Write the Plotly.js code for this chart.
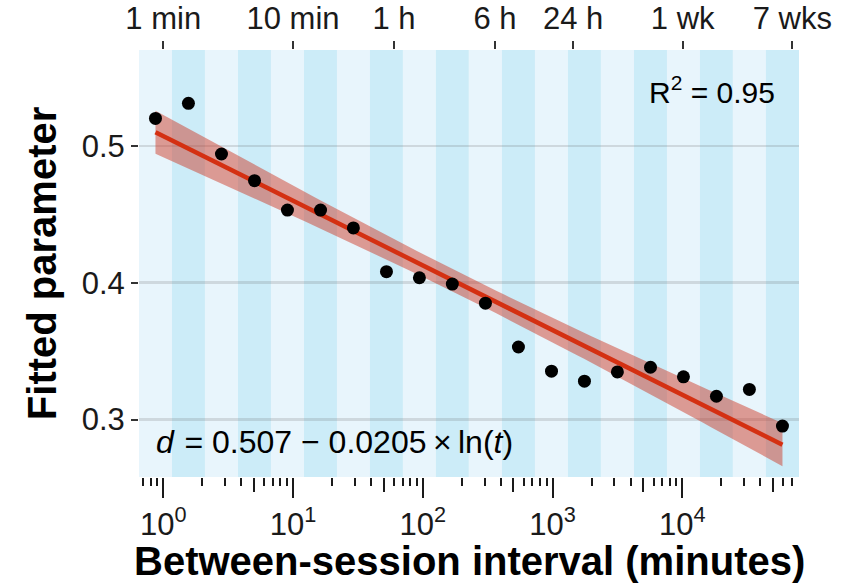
<!DOCTYPE html>
<html>
<head>
<meta charset="utf-8">
<script src="https://cdn.plot.ly/plotly-3.0.1.min.js"></script>
<style>
  html, body { margin: 0; padding: 0; background: #ffffff; }
  #chart { width: 845px; height: 584px; }
</style>
</head>
<body>
<div id="chart"></div>
<script>
// ---- data ----
const intervalMinutes = [0.871, 1.563, 2.81, 5.05, 9.06, 16.3, 29.2, 52.5, 94.2, 169, 304, 546, 982, 1762, 3162, 5689, 10210, 18330, 32890, 59160];
const fittedParameter = [0.520, 0.531, 0.494, 0.4745, 0.453, 0.453, 0.440, 0.408, 0.4036, 0.399, 0.385, 0.353, 0.3353, 0.328, 0.3348, 0.3382, 0.3312, 0.317, 0.322, 0.2952];

const bottomMajorVals = [1, 10, 100, 1000, 10000];
const bottomMajorText = ['10<sup>0</sup>', '10<sup>1</sup>', '10<sup>2</sup>', '10<sup>3</sup>', '10<sup>4</sup>'];
const bottomMidVals = [5, 50, 500, 5000, 50000];
const bottomMinorVals = [0.7, 0.8, 0.9, 2, 3, 4, 6, 7, 8, 9, 20, 30, 40, 60, 70, 80, 90,
  200, 300, 400, 600, 700, 800, 900, 2000, 3000, 4000, 6000, 7000, 8000, 9000,
  20000, 30000, 40000, 60000, 70000];
const topTickVals = [1, 10, 60, 360, 1440, 10080, 70560];
const topTickText = ['1 min', '10 min', '1 h', '6 h', '24 h', '1 wk', '7 wks'];
const yTickVals = [0.3, 0.4, 0.5];
const yTickText = ['0.3', '0.4', '0.5'];
const r2Text = 'R<sup>2</sup> = 0.95';
const eqText = '<i>d</i>\u2004= 0.507 − 0.0205\u2009×\u2009ln(<i>t</i>)';

// ---- band edges: geometric midpoints between neighbouring intervals ----
const n = intervalMinutes.length;
const edges = [];
edges.push(intervalMinutes[0] * Math.sqrt(intervalMinutes[0] / intervalMinutes[1]));
for (let i = 1; i < n; i++) edges.push(Math.sqrt(intervalMinutes[i - 1] * intervalMinutes[i]));
edges.push(intervalMinutes[n - 1] * Math.sqrt(intervalMinutes[n - 1] / intervalMinutes[n - 2]));
const xRange = [Math.log10(edges[0]), Math.log10(edges[n])];

const lightBand = 'rgb(232,245,252)';
const darkBand = 'rgb(204,236,248)';
const shapes = [];
for (let i = 0; i < n; i++) {
  shapes.push({
    type: 'rect', xref: 'x', yref: 'paper',
    x0: edges[i], x1: edges[i + 1], y0: 0, y1: 1,
    fillcolor: i % 2 === 0 ? lightBand : darkBand,
    line: { width: 0 }, layer: 'below'
  });
}

// ---- linear fit of d on ln(t) with 95% confidence band ----
const lx = intervalMinutes.map(Math.log);
const mx = lx.reduce((a, b) => a + b, 0) / n;
const my = fittedParameter.reduce((a, b) => a + b, 0) / n;
let sxx = 0, sxy = 0;
for (let i = 0; i < n; i++) { sxx += (lx[i] - mx) ** 2; sxy += (lx[i] - mx) * (fittedParameter[i] - my); }
const slope = sxy / sxx;
const intercept = my - slope * mx;
let sse = 0;
for (let i = 0; i < n; i++) sse += (fittedParameter[i] - (intercept + slope * lx[i])) ** 2;
const sRes = Math.sqrt(sse / (n - 2));
const tCrit = 2.1009; // t(0.975, df = 18)

const gridN = 80;
const lo = Math.log(Math.min(...intervalMinutes)), hi = Math.log(Math.max(...intervalMinutes));
const fitX = [], fitY = [], upY = [], lowY = [];
for (let k = 0; k < gridN; k++) {
  const u = lo + (hi - lo) * k / (gridN - 1);
  const yhat = intercept + slope * u;
  const se = sRes * Math.sqrt(1 / n + (u - mx) ** 2 / sxx);
  fitX.push(Math.exp(u)); fitY.push(yhat);
  upY.push(yhat + tCrit * se); lowY.push(yhat - tCrit * se);
}

const FONT = 'Liberation Sans, Arial, Helvetica, sans-serif';
const traces = [
  { x: fitX, y: lowY, mode: 'lines', line: { width: 0 }, hoverinfo: 'skip', showlegend: false },
  { x: fitX, y: upY, mode: 'lines', line: { width: 0 }, fill: 'tonexty',
    fillcolor: 'rgba(205,55,35,0.48)', hoverinfo: 'skip', showlegend: false },
  { x: fitX, y: fitY, mode: 'lines', line: { color: 'rgb(212,48,18)', width: 4.5 }, showlegend: false },
  { x: intervalMinutes, y: fittedParameter, mode: 'markers',
    marker: { color: '#000000', size: 13 }, showlegend: false },
  // carriers for the overlaid axes
  { x: intervalMinutes, y: fittedParameter, xaxis: 'x2', mode: 'markers', marker: { opacity: 0 }, hoverinfo: 'skip', showlegend: false },
  { x: intervalMinutes, y: fittedParameter, xaxis: 'x3', mode: 'markers', marker: { opacity: 0 }, hoverinfo: 'skip', showlegend: false }
];

const layout = {
  width: 845, height: 584,
  margin: { l: 139, r: 46, t: 50, b: 107 },
  paper_bgcolor: '#ffffff', plot_bgcolor: '#ffffff',
  font: { family: FONT, color: '#1a1a1a' },
  showlegend: false,
  hovermode: false,
  shapes: shapes,
  xaxis: {
    type: 'log', range: xRange, tickmode: 'array', tickvals: bottomMajorVals, ticktext: bottomMajorText,
    ticks: 'outside', ticklen: 20, tickwidth: 2, tickcolor: '#1a1a1a',
    tickfont: { size: 31, color: '#1a1a1a', family: FONT },
    showgrid: false, zeroline: false, showline: false,
    minor: { tickmode: 'array', tickvals: bottomMinorVals, ticks: 'outside', ticklen: 8, tickwidth: 2, tickcolor: '#1a1a1a', showgrid: false }
  },
  xaxis2: {
    type: 'log', range: xRange, overlaying: 'x', side: 'top', anchor: 'y',
    tickmode: 'array', tickvals: topTickVals, ticktext: topTickText,
    ticks: 'outside', ticklen: 8, tickwidth: 2, tickcolor: '#333333',
    tickfont: { size: 31, color: '#1a1a1a', family: FONT },
    showgrid: false, zeroline: false, showline: false
  },
  xaxis3: {
    type: 'log', range: xRange, overlaying: 'x', side: 'bottom', anchor: 'y',
    tickmode: 'array', tickvals: bottomMidVals, showticklabels: false,
    ticks: 'outside', ticklen: 14, tickwidth: 2, tickcolor: '#1a1a1a',
    showgrid: false, zeroline: false, showline: false
  },
  yaxis: {
    range: [0.258, 0.570], tickmode: 'array', tickvals: yTickVals, ticktext: yTickText,
    ticks: 'outside', ticklen: 7, tickwidth: 2, tickcolor: '#333333',
    tickfont: { size: 31, color: '#1a1a1a', family: FONT },
    showgrid: true, gridcolor: 'rgba(90,90,90,0.18)', gridwidth: 2.5,
    zeroline: false, showline: false
  },
  annotations: [
    { text: 'Between-session interval (minutes)', xref: 'paper', yref: 'paper', x: 0.5, y: -0.196,
      xanchor: 'center', yanchor: 'middle', showarrow: false,
      font: { family: FONT, size: 40, weight: 'bold', color: '#000000' } },
    { text: 'Fitted parameter', xref: 'paper', yref: 'paper', x: -0.1475, y: 0.5, textangle: -90,
      xanchor: 'center', yanchor: 'middle', showarrow: false,
      font: { family: FONT, size: 40, weight: 'bold', color: '#000000' } },
    { text: r2Text, xref: 'paper', yref: 'paper', x: 0.966, y: 0.906,
      xanchor: 'right', yanchor: 'middle', showarrow: false,
      font: { family: FONT, size: 30, color: '#000000' } },
    { text: eqText, xref: 'paper', yref: 'paper', x: 0.022, y: 0.082,
      xanchor: 'left', yanchor: 'middle', showarrow: false,
      font: { family: FONT, size: 32, color: '#000000' } }
  ]
};

Plotly.newPlot('chart', traces, layout, { staticPlot: true, displayModeBar: false });
</script>
</body>
</html>
